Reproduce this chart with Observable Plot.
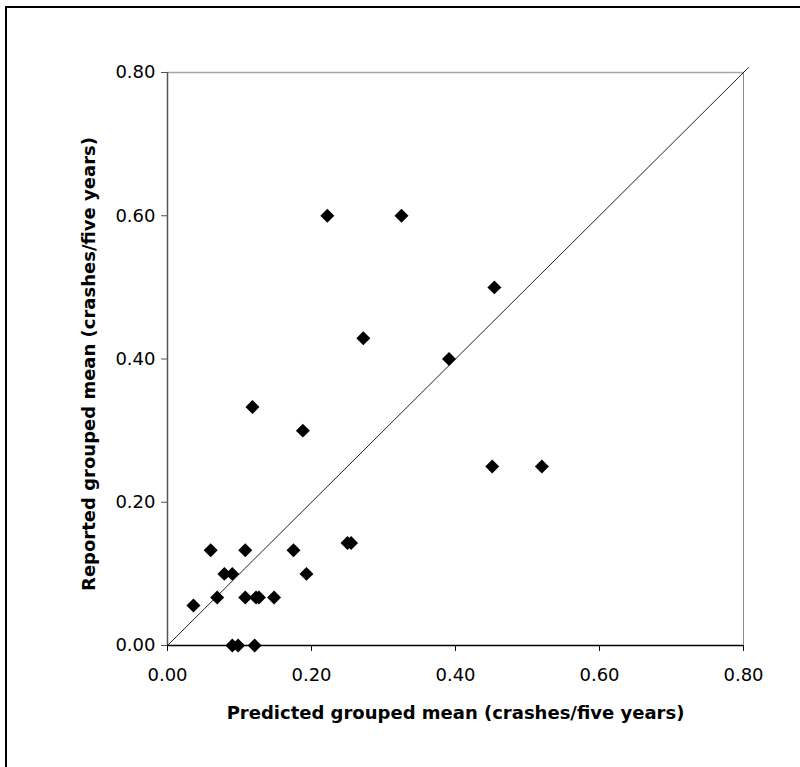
<!DOCTYPE html>
<html>
<head>
<meta charset="utf-8">
<script src="https://cdn.jsdelivr.net/npm/d3@7"></script>
<script src="https://cdn.jsdelivr.net/npm/@observablehq/plot@0.6"></script>
<style>
  html, body { margin: 0; padding: 0; background: #fff; overflow: hidden; }
  #wrap { position: relative; width: 800px; height: 767px; overflow: hidden; }
  #border { position: absolute; left: 5px; top: 6px; width: 900px; height: 900px;
            border-left: 2px solid #000; border-top: 2px solid #000; pointer-events: none; }
  #chart { position: absolute; left: 0; top: 0; }
</style>
</head>
<body>
<div id="wrap"><div id="chart"></div><div id="border"></div></div>
<script>
// Data
const predicted = [0.036, 0.060, 0.069, 0.079, 0.090, 0.090, 0.098, 0.108, 0.108, 0.121, 0.123, 0.127, 0.148, 0.175, 0.193, 0.250, 0.255, 0.222, 0.325, 0.454, 0.272, 0.391, 0.188, 0.451, 0.520, 0.118];
const reported  = [0.056, 0.133, 0.067, 0.100, 0.100, 0.000, 0.000, 0.133, 0.067, 0.000, 0.067, 0.067, 0.067, 0.133, 0.100, 0.143, 0.143, 0.600, 0.600, 0.500, 0.429, 0.400, 0.300, 0.250, 0.250, 0.333];
const diagonalX = [0, 0.807];
const diagonalY = [0, 0.807];
const xTicks = [0, 0.2, 0.4, 0.6, 0.8];
const yTicks = [0, 0.2, 0.4, 0.6, 0.8];
const xTitle = "Predicted grouped mean (crashes/five years)";
const yTitle = "Reported grouped mean (crashes/five years)";

const points = predicted.map((p, i) => ({p, r: reported[i]}));
const diag = diagonalX.map((x, i) => ({x, y: diagonalY[i]}));
const fmt = d3.format(".2f");

const chart = Plot.plot({
  width: 800,
  height: 767,
  marginLeft: 167,
  marginRight: 57,
  marginTop: 72,
  marginBottom: 122,
  x: {domain: [0, 0.8]},
  y: {domain: [0, 0.8]},
  style: {fontFamily: "'DejaVu Sans', Verdana, sans-serif", fontSize: "18px", color: "#000", background: "transparent"},
  marks: [
    Plot.ruleY([0.8], {stroke: "#a6a6a6", strokeWidth: 1.5}),
    Plot.ruleX([0.8], {stroke: "#8c8c8c", strokeWidth: 1}),
    Plot.axisY({ticks: yTicks, tickFormat: fmt, tickSize: 6, tickPadding: 6, stroke: "#555", strokeOpacity: 1, label: null, fontSize: 18}),
    Plot.axisX({ticks: xTicks, tickFormat: fmt, tickSize: 6, tickPadding: 17, stroke: "#000", strokeOpacity: 1, label: null, fontSize: 18}),
    Plot.ruleX([0], {stroke: "#555", strokeWidth: 1.5}),
    Plot.ruleY([0], {stroke: "#000", strokeWidth: 1.5}),
    Plot.line(diag, {x: "x", y: "y", stroke: "#222", strokeWidth: 1}),
    Plot.dot(points, {x: "p", y: "r", symbol: "diamond2", r: 6.3, fill: "#000", stroke: "none"}),
    Plot.text([xTitle], {frameAnchor: "bottom", dy: 68, lineAnchor: "middle", fontWeight: "bold", fontSize: 18}),
    Plot.text([yTitle], {frameAnchor: "left", dx: -78, dy: 5, rotate: -90, textAnchor: "middle", lineAnchor: "middle", fontWeight: "bold", fontSize: 18})
  ]
});
document.getElementById("chart").appendChild(chart);
</script>
</body>
</html>
